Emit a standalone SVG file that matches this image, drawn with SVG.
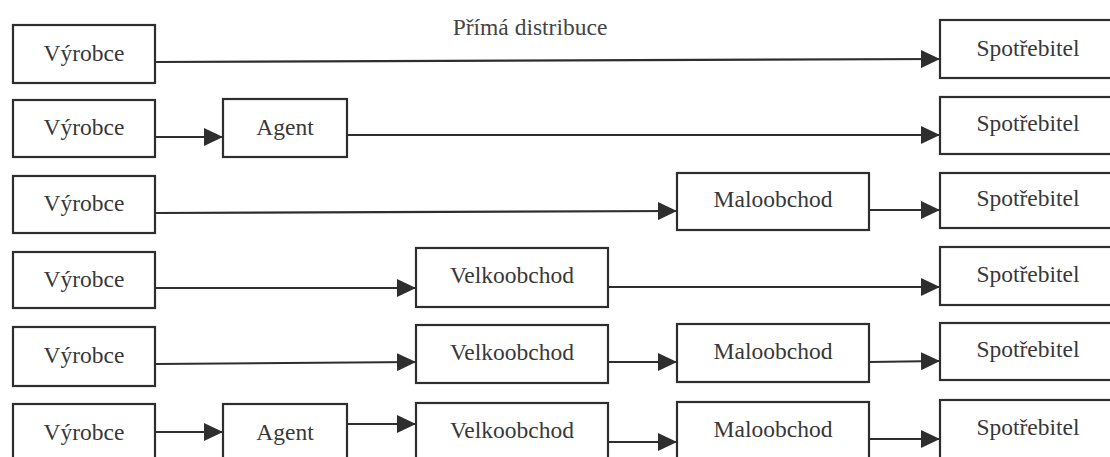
<svg xmlns="http://www.w3.org/2000/svg" width="1110" height="457" viewBox="0 0 1110 457">
  <defs>
    <style>
      .box { fill: #ffffff; stroke: #2e2e2e; stroke-width: 2.2; }
      .lbl { font-family: "Liberation Serif", "Times New Roman", serif; font-size: 23.5px; fill: #383838; text-anchor: middle; }
      .title { font-family: "Liberation Serif", "Times New Roman", serif; font-size: 23.5px; fill: #444444; text-anchor: middle; }
      .edge { stroke: #2e2e2e; stroke-width: 2.2; fill: none; marker-end: url(#arr); }
    </style>
    <marker id="arr" markerUnits="userSpaceOnUse" markerWidth="20" markerHeight="18" refX="19" refY="9" orient="auto">
      <path d="M0,0 L19,9 L0,18 Z" fill="#2e2e2e"/>
    </marker>
  </defs>
  <rect x="0" y="0" width="1110" height="457" fill="#ffffff"/>

  <text class="title" x="530" y="35">Přímá distribuce</text>

  <!-- Row 1 -->
  <g id="vyrobce1"><rect class="box" x="13" y="25" width="142" height="58"/><text class="lbl" x="84" y="61">Výrobce</text></g>
  <g id="spotrebitel1"><rect class="box" x="940" y="20" width="185" height="58"/><text class="lbl" x="1028" y="56">Spotřebitel</text></g>

  <!-- Row 2 -->
  <g id="vyrobce2"><rect class="box" x="13" y="100" width="142" height="57"/><text class="lbl" x="84" y="135">Výrobce</text></g>
  <g id="agent2"><rect class="box" x="223" y="99" width="124" height="58"/><text class="lbl" x="285" y="135">Agent</text></g>
  <g id="spotrebitel2"><rect class="box" x="940" y="97" width="185" height="57"/><text class="lbl" x="1028" y="131">Spotřebitel</text></g>

  <!-- Row 3 -->
  <g id="vyrobce3"><rect class="box" x="13" y="176" width="142" height="57"/><text class="lbl" x="84" y="211">Výrobce</text></g>
  <g id="maloobchod3"><rect class="box" x="677" y="173" width="192" height="57"/><text class="lbl" x="773" y="207">Maloobchod</text></g>
  <g id="spotrebitel3"><rect class="box" x="940" y="173" width="185" height="55"/><text class="lbl" x="1028" y="206">Spotřebitel</text></g>

  <!-- Row 4 -->
  <g id="vyrobce4"><rect class="box" x="13" y="252" width="142" height="56"/><text class="lbl" x="84" y="287">Výrobce</text></g>
  <g id="velkoobchod4"><rect class="box" x="416" y="248" width="192" height="59"/><text class="lbl" x="512" y="283">Velkoobchod</text></g>
  <g id="spotrebitel4"><rect class="box" x="940" y="247" width="185" height="58"/><text class="lbl" x="1028" y="282">Spotřebitel</text></g>

  <!-- Row 5 -->
  <g id="vyrobce5"><rect class="box" x="13" y="327" width="142" height="59"/><text class="lbl" x="84" y="363">Výrobce</text></g>
  <g id="velkoobchod5"><rect class="box" x="416" y="325" width="192" height="58"/><text class="lbl" x="512" y="360">Velkoobchod</text></g>
  <g id="maloobchod5"><rect class="box" x="677" y="324" width="192" height="58"/><text class="lbl" x="773" y="359">Maloobchod</text></g>
  <g id="spotrebitel5"><rect class="box" x="940" y="323" width="185" height="57"/><text class="lbl" x="1028" y="357">Spotřebitel</text></g>

  <!-- Row 6 -->
  <g id="vyrobce6"><rect class="box" x="13" y="404" width="142" height="70"/><text class="lbl" x="84" y="440">Výrobce</text></g>
  <g id="agent6"><rect class="box" x="223" y="404" width="124" height="70"/><text class="lbl" x="285" y="440">Agent</text></g>
  <g id="velkoobchod6"><rect class="box" x="416" y="403" width="192" height="70"/><text class="lbl" x="512" y="438">Velkoobchod</text></g>
  <g id="maloobchod6"><rect class="box" x="677" y="402" width="192" height="70"/><text class="lbl" x="773" y="437">Maloobchod</text></g>
  <g id="spotrebitel6"><rect class="box" x="940" y="400" width="185" height="70"/><text class="lbl" x="1028" y="435">Spotřebitel</text></g>

  <g id="connectors">
    <line class="edge" x1="155" y1="62" x2="940" y2="59"/>

    <line class="edge" x1="155" y1="137" x2="223" y2="137"/>
    <line class="edge" x1="347" y1="135" x2="940" y2="135"/>

    <line class="edge" x1="155" y1="213" x2="677" y2="211"/>
    <line class="edge" x1="869" y1="210" x2="940" y2="210"/>

    <line class="edge" x1="155" y1="288" x2="416" y2="288"/>
    <line class="edge" x1="608" y1="287" x2="940" y2="287"/>

    <line class="edge" x1="155" y1="364" x2="416" y2="362"/>
    <line class="edge" x1="608" y1="362" x2="677" y2="362"/>
    <line class="edge" x1="869" y1="362" x2="940" y2="361"/>

    <line class="edge" x1="155" y1="432" x2="223" y2="432"/>
    <line class="edge" x1="347" y1="424" x2="416" y2="424"/>
    <line class="edge" x1="608" y1="442" x2="677" y2="442"/>
    <line class="edge" x1="869" y1="439" x2="940" y2="439"/>
  </g>
</svg>
